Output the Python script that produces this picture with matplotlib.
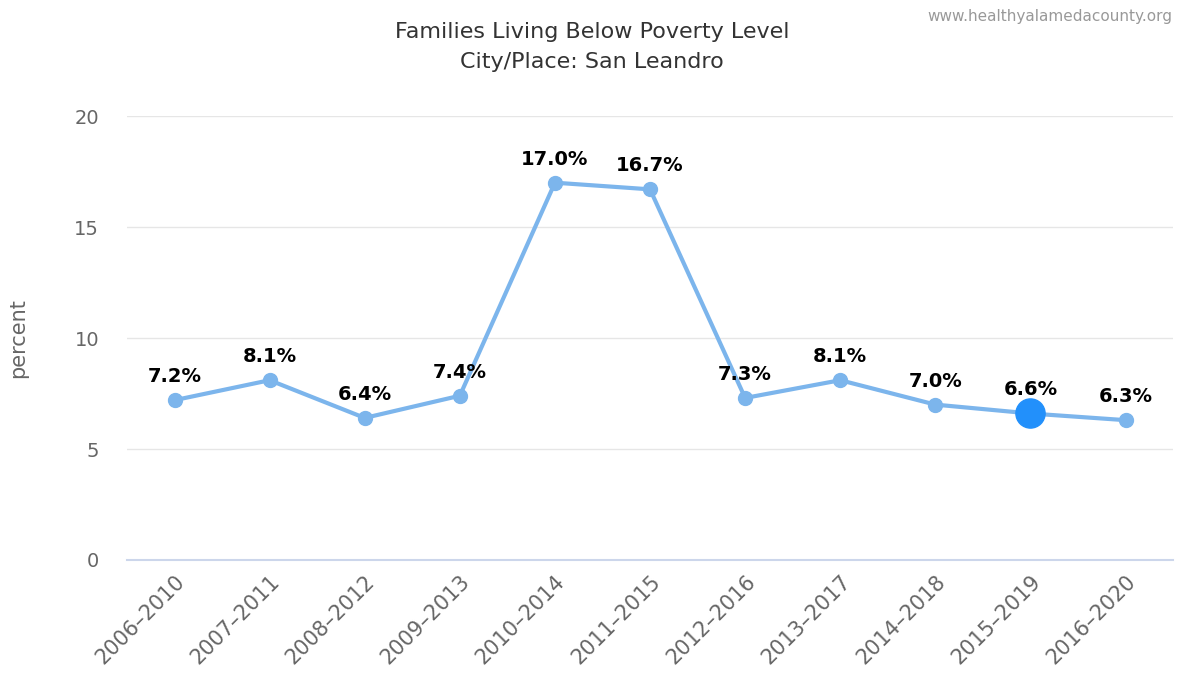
import matplotlib
matplotlib.use('Agg')
import matplotlib.pyplot as plt

periods = ["2006-2010", "2007-2011", "2008-2012", "2009-2013", "2010-2014", "2011-2015",
           "2012-2016", "2013-2017", "2014-2018", "2015-2019", "2016-2020"]
values = [7.2, 8.1, 6.4, 7.4, 17.0, 16.7, 7.3, 8.1, 7.0, 6.6, 6.3]
highlight = 9  # 2015-2019
yticks = [0, 5, 10, 15, 20]

line_color = '#7cb5ec'
hi_color = '#2290fb'

fig = plt.figure(figsize=(11.79, 6.79), dpi=100)
ax = fig.add_axes([0.1077, 0.1753, 0.8873, 0.6537])

x = list(range(len(values)))
ax.plot(x, values, color=line_color, linewidth=3, zorder=3,
        marker='o', markersize=10, markerfacecolor=line_color, markeredgecolor=line_color)
ax.plot(x[highlight], values[highlight], 'o', markersize=21, color=hi_color,
        markeredgecolor=hi_color, zorder=4)

for xi, v in zip(x, values):
    ax.annotate(f"{v:.1f}%", (xi, v), xytext=(0, 17), textcoords='offset points',
                ha='center', va='center', fontsize=14, fontweight='bold', color='black', zorder=5)

ax.set_xlim(-0.5, len(values) - 0.5)
ax.set_ylim(0, 20)
ax.set_yticks(yticks)
ax.set_yticklabels([str(t) for t in yticks], fontsize=14, color='#666666')
ax.set_xticks(x)
ax.set_xticklabels([p.replace('-', '\u2013') for p in periods], rotation=45, ha='right',
                   rotation_mode='anchor', fontsize=15, color='#666666')
ax.tick_params(axis='y', length=0, pad=20)
ax.tick_params(axis='x', length=0, pad=8)

ax.grid(axis='y', color='#e6e6e6', linewidth=1)
ax.set_axisbelow(True)
for s in ['top', 'right', 'left']:
    ax.spines[s].set_visible(False)
ax.spines['bottom'].set_color('#ccd6eb')
ax.spines['bottom'].set_linewidth(1.5)

ax.set_ylabel("percent", fontsize=15, color='#666666', labelpad=33)

fig.text(0.502, 0.953, "Families Living Below Poverty Level", ha='center', va='center',
         fontsize=16, color='#333333')
fig.text(0.502, 0.909, "City/Place: San Leandro", ha='center', va='center',
         fontsize=16, color='#333333')
fig.text(0.994, 0.976, "www.healthyalamedacounty.org", ha='right', va='center',
         fontsize=11, color='#999999')

fig.savefig('out.png', dpi=100, facecolor='white')
